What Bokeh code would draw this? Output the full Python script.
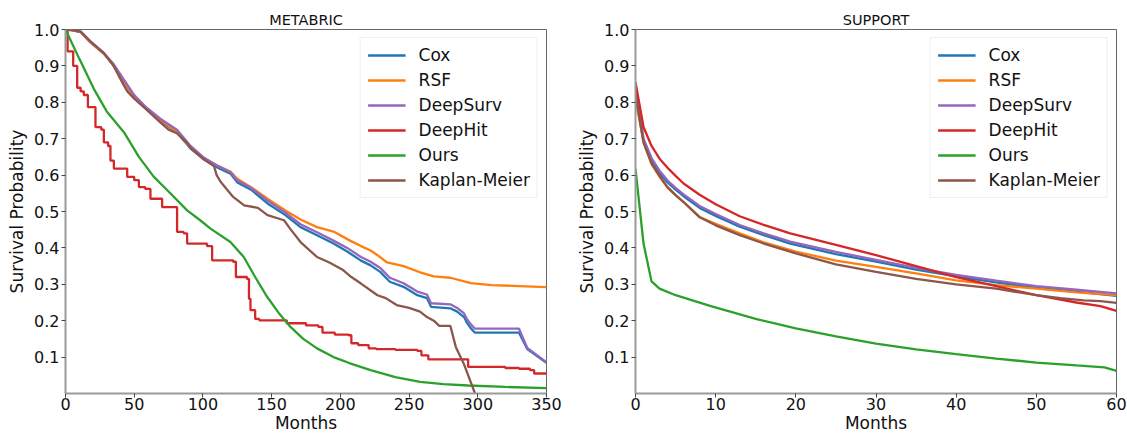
from bokeh.plotting import figure
from bokeh.layouts import row
from bokeh.models import FixedTicker, Legend
from bokeh.embed import file_html
from bokeh.resources import INLINE

# ---------------- data ----------------
methods = ["Cox", "RSF", "DeepSurv", "DeepHit", "Ours", "Kaplan-Meier"]
colors = ["#1f77b4", "#ff7f0e", "#9467bd", "#d62728", "#2ca02c", "#8c564b"]

# METABRIC (months)
m_cox_t = [0, 5, 11, 18, 28, 35, 42, 50, 59, 69, 81, 91, 100, 110, 120, 125, 135, 147, 160, 171, 183, 195, 205, 215, 222, 229, 236, 246, 256, 263, 266, 280, 285, 290, 292, 295, 298, 330, 336, 350]
m_cox_s = [1.0, 0.998, 0.993, 0.965, 0.933, 0.901, 0.86, 0.814, 0.782, 0.75, 0.718, 0.673, 0.645, 0.622, 0.604, 0.58, 0.56, 0.522, 0.49, 0.457, 0.435, 0.412, 0.39, 0.365, 0.352, 0.334, 0.307, 0.293, 0.27, 0.262, 0.238, 0.234, 0.225, 0.21, 0.195, 0.179, 0.167, 0.167, 0.122, 0.084]

m_rsf_t = [0, 5, 11, 18, 28, 35, 42, 50, 59, 69, 81, 91, 100, 110, 120, 125, 135, 147, 160, 171, 183, 195, 207, 215, 222, 227, 234, 246, 258, 268, 280, 295, 310, 330, 350]
m_rsf_s = [1.0, 0.998, 0.993, 0.965, 0.933, 0.901, 0.86, 0.814, 0.782, 0.752, 0.72, 0.675, 0.647, 0.627, 0.61, 0.59, 0.567, 0.535, 0.503, 0.478, 0.457, 0.445, 0.42, 0.405, 0.393, 0.38, 0.36, 0.35, 0.333, 0.322, 0.318, 0.303, 0.298, 0.295, 0.292]

m_ds_t = [0, 5, 11, 18, 28, 35, 42, 50, 59, 69, 81, 91, 100, 110, 120, 125, 135, 147, 160, 171, 183, 195, 205, 215, 222, 229, 236, 246, 256, 263, 266, 280, 285, 290, 292, 295, 298, 330, 336, 350]
m_ds_s = [1.0, 0.998, 0.993, 0.967, 0.935, 0.905, 0.865, 0.82, 0.785, 0.755, 0.725, 0.68, 0.65, 0.627, 0.608, 0.585, 0.565, 0.53, 0.497, 0.465, 0.443, 0.42, 0.4, 0.375, 0.362, 0.345, 0.318, 0.303, 0.28, 0.272, 0.248, 0.245, 0.235, 0.22, 0.205, 0.19, 0.178, 0.178, 0.125, 0.086]

m_dh_t = [0, 1.5, 5.6, 8.5, 11, 13.3, 16.3, 21.8, 26, 27.9, 31, 32.7, 35.2, 44.9, 50, 53.4, 58, 61.8, 70.3, 81.2, 86, 88.5, 103, 106.7, 122, 124, 132, 133.5, 134.6, 138, 141, 161, 175, 184, 187, 196, 206, 208, 213, 220.6, 226, 240, 256, 259, 264, 293, 320, 330, 338, 341, 350]
m_dh_s = [1.0, 0.94, 0.90, 0.84, 0.83, 0.82, 0.787, 0.732, 0.725, 0.69, 0.68, 0.64, 0.618, 0.595, 0.586, 0.567, 0.562, 0.535, 0.512, 0.444, 0.44, 0.412, 0.405, 0.366, 0.362, 0.32, 0.315, 0.26, 0.229, 0.205, 0.201, 0.193, 0.187, 0.183, 0.167, 0.162, 0.16, 0.138, 0.133, 0.124, 0.122, 0.12, 0.117, 0.105, 0.094, 0.073, 0.07, 0.068, 0.064, 0.055, 0.055]

m_ours_t = [0, 10, 20.6, 30, 42.5, 53.4, 64.3, 75, 88.5, 98, 105.5, 120, 129.7, 138, 146.8, 155, 163.7, 173, 183, 195, 207, 222, 240, 258, 275, 293, 320, 350]
m_ours_s = [1.0, 0.92, 0.837, 0.775, 0.718, 0.65, 0.595, 0.555, 0.503, 0.476, 0.453, 0.416, 0.375, 0.32, 0.265, 0.222, 0.183, 0.15, 0.124, 0.1, 0.083, 0.064, 0.045, 0.032, 0.026, 0.022, 0.018, 0.015]

m_km_t = [0, 5, 11, 18, 28, 35, 42, 45, 50, 59, 69, 75, 81, 88, 91, 100, 108, 110, 113, 122, 130, 140, 147, 159, 163, 171, 183, 192, 202, 208, 215, 227, 233, 241, 250, 258, 263, 268, 272, 280, 284, 290, 298]
m_km_s = [1.0, 0.998, 0.995, 0.968, 0.935, 0.9, 0.85, 0.83, 0.81, 0.78, 0.745, 0.725, 0.715, 0.69, 0.675, 0.645, 0.625, 0.6, 0.581, 0.54, 0.517, 0.51, 0.49, 0.476, 0.455, 0.416, 0.375, 0.36, 0.339, 0.32, 0.302, 0.27, 0.262, 0.243, 0.235, 0.225, 0.21, 0.2, 0.186, 0.186, 0.128, 0.08, 0.0]

# SUPPORT (months)
s_cox_t = [0, 1, 2, 3, 4, 5, 6, 8, 10, 13, 16, 19.3, 25, 30, 35, 40, 45, 50, 55, 60]
s_cox_s = [0.84, 0.695, 0.64, 0.605, 0.58, 0.56, 0.542, 0.51, 0.488, 0.458, 0.435, 0.412, 0.383, 0.362, 0.34, 0.322, 0.305, 0.29, 0.28, 0.268]

s_rsf_t = [0, 1, 2, 3, 4, 5, 6, 8, 10, 13, 16, 20, 25, 30, 35, 40, 45, 50, 55, 60]
s_rsf_s = [0.81, 0.69, 0.63, 0.595, 0.565, 0.545, 0.526, 0.485, 0.466, 0.44, 0.415, 0.39, 0.365, 0.348, 0.33, 0.311, 0.298, 0.288, 0.278, 0.27]

s_ds_t = [0, 1, 2, 3, 4, 5, 6, 8, 10, 13, 16, 19.3, 25, 30, 35, 40, 45, 50, 55, 60]
s_ds_s = [0.845, 0.7, 0.647, 0.612, 0.585, 0.565, 0.547, 0.515, 0.493, 0.463, 0.44, 0.417, 0.389, 0.367, 0.345, 0.326, 0.31, 0.295, 0.285, 0.275]

s_dh_t = [0, 1, 2, 3, 4, 5, 6, 8, 10, 13, 16, 19.3, 25, 30, 35, 40, 45, 50, 55, 58, 60]
s_dh_s = [0.855, 0.732, 0.68, 0.645, 0.62, 0.598, 0.577, 0.546, 0.52, 0.487, 0.463, 0.44, 0.408, 0.38, 0.35, 0.32, 0.295, 0.27, 0.25, 0.24, 0.227]

s_ours_t = [0, 1, 2, 3, 5, 9.4, 15, 20, 25, 30, 35, 40, 45, 50, 55, 58.5, 60]
s_ours_s = [0.618, 0.412, 0.308, 0.288, 0.27, 0.24, 0.205, 0.179, 0.157, 0.137, 0.121, 0.108, 0.096, 0.085, 0.077, 0.072, 0.062]

s_km_t = [0, 1, 2, 3, 4, 5, 6, 8, 10, 13, 16, 20, 25, 30, 35, 40, 45, 50, 53, 55.9, 58, 60]
s_km_s = [0.82, 0.69, 0.632, 0.598, 0.567, 0.545, 0.526, 0.484, 0.462, 0.435, 0.412, 0.385, 0.355, 0.334, 0.315, 0.3, 0.288, 0.27, 0.262, 0.256, 0.254, 0.249]

y_ticks = [0.1, 0.2, 0.3, 0.4, 0.5, 0.6, 0.7, 0.8, 0.9, 1.0]
m_x_ticks = [0, 50, 100, 150, 200, 250, 300, 350]
s_x_ticks = [0, 10, 20, 30, 40, 50, 60]

FONT = "DejaVu Sans"


def make_fig(title, xmax, xticks, series, width, left_border, step_idx=None):
    p = figure(width=width, height=435, x_range=(0, xmax), y_range=(0, 1.0),
               output_backend="svg", toolbar_location=None, title=title,
               min_border_left=left_border, min_border_right=width - left_border - 481,
               min_border_top=29, min_border_bottom=41)
    p.title.align = "center"
    p.title.text_font = FONT
    p.title.text_font_style = "normal"
    p.title.text_font_size = "14.5px"
    p.title.text_color = "#111111"
    p.title.standoff = 4
    p.xgrid.visible = False
    p.ygrid.visible = False
    p.outline_line_color = "#666666"
    p.outline_line_width = 1
    for ax in (p.xaxis[0], p.yaxis[0]):
        ax.axis_line_color = "#9a9a9a"
        ax.axis_line_width = 2
        ax.major_tick_line_color = "#444444"
        ax.major_tick_out = 4
        ax.major_tick_in = 0
        ax.minor_tick_line_color = None
        ax.major_label_text_font = FONT
        ax.major_label_text_font_size = "16px"
        ax.major_label_text_color = "#111111"
        ax.axis_label_text_font = FONT
        ax.axis_label_text_font_size = "17px"
        ax.axis_label_text_font_style = "normal"
        ax.axis_label_text_color = "#111111"
        ax.major_label_standoff = 0
        ax.axis_label_standoff = 0
    p.yaxis.major_label_standoff = 2
    p.yaxis.axis_label_standoff = 4
    p.xaxis.ticker = FixedTicker(ticks=xticks)
    p.yaxis.ticker = FixedTicker(ticks=y_ticks)
    p.yaxis.major_label_overrides = {v: f"{v:.1f}" for v in y_ticks}
    p.xaxis.axis_label = "Months"
    p.yaxis.axis_label = "Survival Probability"

    items = []
    for i, (name, col, (t, s)) in enumerate(zip(methods, colors, series)):
        if step_idx is not None and i == step_idx:
            r = p.step(t, s, mode="after", line_color=col, line_width=2.3)
        else:
            r = p.line(t, s, line_color=col, line_width=2.3)
        items.append((name, [r]))
    leg = Legend(items=items, location="top_right")
    leg.margin = 8
    leg.padding = 7
    leg.spacing = 5
    leg.glyph_width = 38
    leg.glyph_height = 20
    leg.label_height = 20
    leg.label_standoff = 13
    leg.label_text_font = FONT
    leg.label_text_font_size = "17px"
    leg.label_text_color = "#111111"
    leg.border_line_color = "#dddddd"
    leg.border_line_width = 1
    leg.background_fill_alpha = 0.85
    p.add_layout(leg, "center")
    return p


p1 = make_fig("METABRIC", 350, m_x_ticks,
              [(m_cox_t, m_cox_s), (m_rsf_t, m_rsf_s), (m_ds_t, m_ds_s),
               (m_dh_t, m_dh_s), (m_ours_t, m_ours_s), (m_km_t, m_km_s)],
              width=568, left_border=65, step_idx=3)
p2 = make_fig("SUPPORT", 60, s_x_ticks,
              [(s_cox_t, s_cox_s), (s_rsf_t, s_rsf_s), (s_ds_t, s_ds_s),
               (s_dh_t, s_dh_s), (s_ours_t, s_ours_s), (s_km_t, s_km_s)],
              width=559, left_border=67)

layout = row(p1, p2)
open("out.html", "w").write(file_html(layout, INLINE))
